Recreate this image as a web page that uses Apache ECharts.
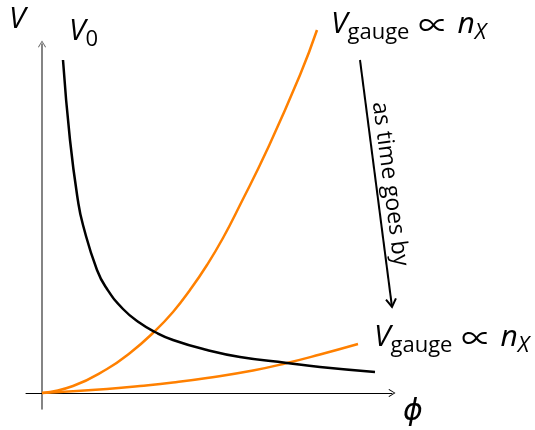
<!DOCTYPE html>
<html>
<head>
    <meta charset="utf-8">
    <title>V vs phi</title>
    <script src="https://cdn.jsdelivr.net/npm/echarts@6/dist/echarts.min.js"></script>
    <style>
        html, body { margin: 0; padding: 0; background: #fff; }
    </style>
</head>
<body>
<div id="main" style="width: 535px;height: 430px"></div>
<script type="text/javascript">
    // data (x = phi, y = V, arbitrary units)
    var v0Data = [[21, 333], [28, 253], [36, 192], [41, 168], [55, 123], [65, 104], [81, 84], [98, 70],
        [113, 61], [131, 53], [165, 43], [198, 36], [245, 30], [278, 26], [333, 21]];
    var gaugeEarly = [[0, 0], [31, 7], [65, 24], [88, 40], [113, 62], [131, 81], [148, 103], [165, 128],
        [181, 155], [198, 188], [225, 243], [258, 318], [275, 363]];
    var gaugeLate = [[0, 0], [65, 4], [98, 7], [131, 10.5], [165, 15], [211, 22.5], [245, 30], [278, 38.5], [316, 49]];

    var orange = '#ff8000';
    var fam = '"Open Sans", "DejaVu Sans", sans-serif';
    // open arrow head, pointing up
    var chevron = 'path://M0,8 L5,0 L10,8 L9,8.7 L5,1.8 L1,8.7 Z';

    function labelRich(color) {
        return {
            m: {fontFamily: fam, fontSize: 30, fontStyle: 'italic', color: color, lineHeight: 30, padding: [0, 0, 9, 0]},
            r: {fontFamily: '"Noto Sans CJK SC"', fontSize: 30, color: color, lineHeight: 30, padding: [0, 0, 7, 0]},
            sp: {fontFamily: fam, fontSize: 10, width: 9, lineHeight: 10, color: color},
            s: {fontFamily: fam, fontSize: 22, color: color, lineHeight: 22, verticalAlign: 'bottom'},
            si: {fontFamily: fam, fontSize: 22, fontStyle: 'italic', color: color, lineHeight: 22, verticalAlign: 'bottom'}
        };
    }

    var gaugeLabel = '{m|V}{s|gauge}{sp|\u00a0}{r|∝}{sp|\u00a0}{m|n}{si|X}';

    var arrowTop = [360, 60], arrowTip = [392, 307];
    var ang = Math.atan2(arrowTip[0] - arrowTop[0], arrowTip[1] - arrowTop[1]);

    var chart = echarts.init(document.getElementById('main'));
    var option = {
        animation: false,
        grid: {left: 26, right: 143, top: 44, bottom: 21},
        xAxis: {
            type: 'value', min: -16, max: 350,
            axisLine: {onZero: true, symbol: ['none', chevron], symbolSize: [8, 7], lineStyle: {color: '#000', width: 1}},
            axisTick: {show: false}, axisLabel: {show: false}, splitLine: {show: false}
        },
        yAxis: {
            type: 'value', min: -16, max: 349,
            axisLine: {onZero: true, symbol: ['none', chevron], symbolSize: [8, 7], lineStyle: {color: '#666', width: 1.6}},
            axisTick: {show: false}, axisLabel: {show: false}, splitLine: {show: false}
        },
        series: [{
            type: 'line', data: gaugeLate, smooth: 0.5, symbol: 'none', clip: false,
            lineStyle: {color: orange, width: 2.5}
        }, {
            type: 'line', data: gaugeEarly, smooth: 0.5, symbol: 'none', clip: false,
            lineStyle: {color: orange, width: 2.5}
        }, {
            type: 'line', data: v0Data, smooth: 0.5, symbol: 'none', clip: false,
            lineStyle: {color: '#000', width: 2.5}
        }],
        graphic: [
            {type: 'text', left: 9, top: 4, style: {text: 'V', font: 'italic 30px ' + fam, fill: '#000'}},
            {type: 'text', left: 403, top: 396, style: {text: 'ϕ', font: 'italic 30px ' + fam, fill: '#000'}},
            {type: 'text', left: 69, top: 16, style: {text: '{m|V}{s|0}', rich: labelRich('#000')}},
            {type: 'text', left: 331, top: 9, style: {text: gaugeLabel, rich: labelRich(orange)}},
            {type: 'text', left: 374, top: 322, style: {text: gaugeLabel, rich: labelRich(orange)}},
            {type: 'line', shape: {x1: arrowTop[0], y1: arrowTop[1], x2: arrowTip[0], y2: arrowTip[1]},
                style: {stroke: '#000', lineWidth: 2}},
            {type: 'polyline', x: arrowTip[0], y: arrowTip[1], rotation: ang,
                shape: {points: [[-5, -8], [0, 0], [5, -8]]}, style: {stroke: '#000', lineWidth: 2, fill: null}},
            {type: 'text', x: 390, y: 184, rotation: -(Math.PI / 2 - ang),
                style: {text: 'as time goes by', font: '23px ' + fam, fill: '#000', align: 'center', verticalAlign: 'middle'}}
        ]
    };
    chart.setOption(option);
</script>
</body>
</html>
